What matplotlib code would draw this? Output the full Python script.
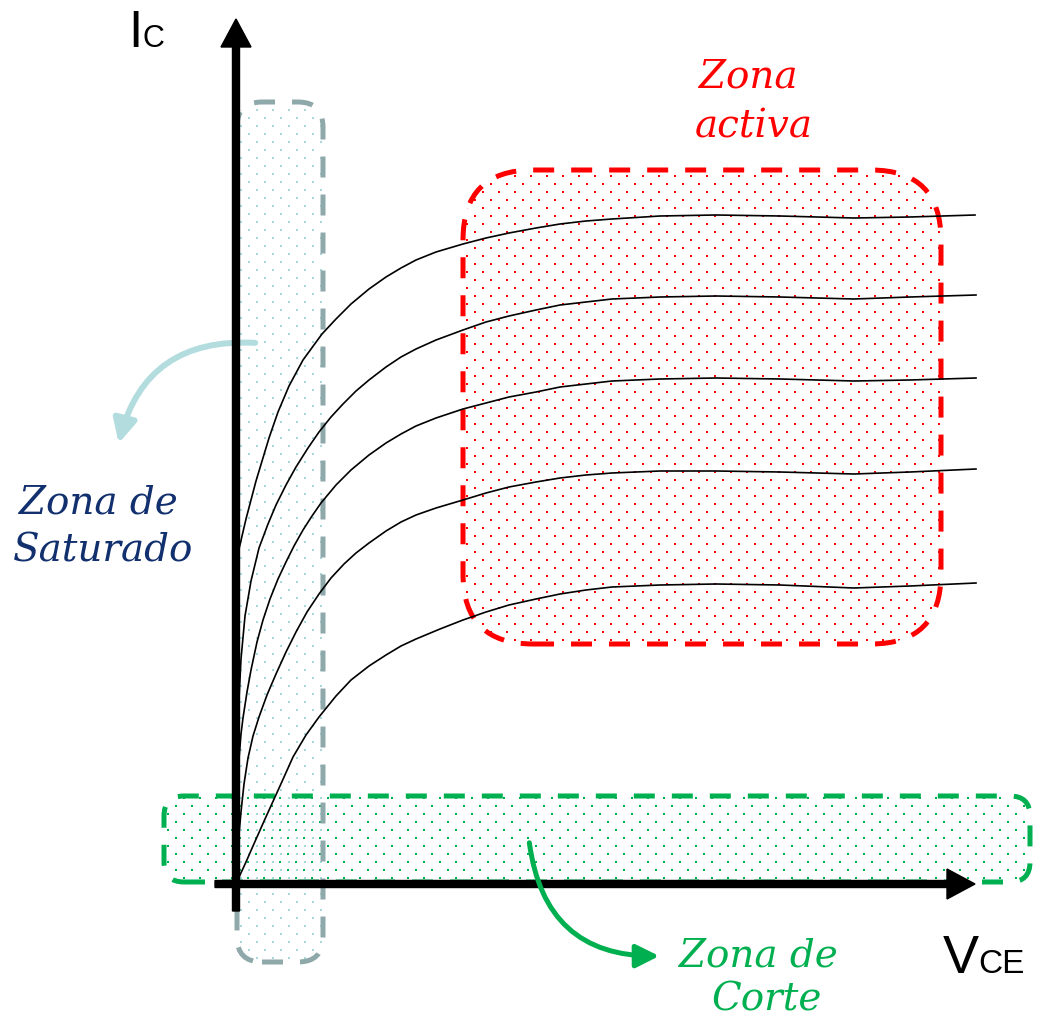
import numpy as np
import matplotlib
matplotlib.use('Agg')
import matplotlib.pyplot as plt
from matplotlib.patches import FancyBboxPatch, FancyArrowPatch

# output curves, Ic vs Vce (units = pixels from the origin)
vce_1 = [0, 0.3, 1, 2, 3, 10, 20, 33, 42, 53, 67, 86, 100, 115, 133, 150, 165, 180, 200, 227, 250,
         273, 300, 324, 350, 376, 424, 480, 544, 618, 674, 739]
ic_1 = [0, 85, 185, 285, 335, 365, 403, 446, 472, 498, 524, 550, 565, 580, 595, 607, 616, 624, 632, 640, 646,
        651, 656, 660, 663, 665, 668, 669, 668, 666, 667, 669]
vce_2 = [0, 1, 2.5, 5, 9, 15, 23, 32, 40, 50, 60, 72, 83, 95, 107, 120, 133, 150, 165, 180, 200, 227, 250,
         273, 300, 324, 350, 376, 424, 480, 544, 618, 674, 740]
ic_2 = [0, 100, 175, 225, 268, 303, 336, 360, 379, 399, 417, 436, 452, 467, 480, 493, 504, 517, 527, 535, 544, 554, 562,
        568, 574, 579, 582, 585, 587, 588, 587, 585, 587, 589]
vce_3 = [0, 1, 3, 5, 7, 11, 15, 21, 27, 34, 42, 50, 58, 67, 76, 85, 100, 115, 133, 150, 165, 180, 200, 227, 250,
         273, 300, 324, 350, 376, 424, 480, 544, 618, 674, 740]
ic_3 = [0, 60, 125, 150, 166, 192, 214, 242, 264, 285, 305, 322, 338, 354, 368, 381, 399, 414, 429, 441, 450, 458, 466, 475, 481,
        487, 492, 497, 500, 503, 505, 506, 505, 503, 504, 506]
vce_4 = [0, 1, 3, 5, 8, 12, 17, 23, 31, 40, 50, 60, 71, 83, 95, 108, 120, 133, 150, 165, 180, 200, 227, 250,
         273, 300, 324, 350, 376, 424, 480, 544, 618, 674, 740]
ic_4 = [0, 22, 50, 72, 100, 126, 148, 167, 189, 210, 232, 252, 272, 290, 306, 320, 331, 341, 353, 362, 369, 376, 384, 391,
        397, 402, 406, 409, 411, 413, 413, 412, 410, 412, 415]
vce_5 = [0, 4, 10, 17, 29, 44, 57, 70, 83, 100, 115, 133, 150, 165, 180, 204, 227, 250, 273, 300, 324, 350, 376,
         424, 480, 544, 618, 674, 740]
ic_5 = [0, 9, 22, 38, 65, 98, 127, 149, 167, 188, 204, 218, 229, 238, 245, 255, 264, 272, 279, 285, 290, 294, 297,
        299, 300, 299, 296, 298, 301]

curves = [(vce_1, ic_1), (vce_2, ic_2), (vce_3, ic_3), (vce_4, ic_4), (vce_5, ic_5)]

zone_labels = ['Zona\nactiva', 'Zona de\nSaturado', 'Zona de\nCorte']

fig = plt.figure(figsize=(10.37, 10.20), dpi=100)
ax = fig.add_axes([0, 0, 1, 1])
ax.set_xlim(-236, 801)
ax.set_ylim(-135, 885)
ax.axis('off')


def zone(x0, y0, w, h, r, edge, dot):
    box = FancyBboxPatch((x0, y0), w, h, boxstyle='round,pad=0,rounding_size=%g' % r,
                         fill=False, ec=edge, lw=3.6, ls=(0, (4.2, 3.4)), zorder=2)
    ax.add_patch(box)
    xs = np.arange(x0 + 4, x0 + w, 16.0)
    ys = np.arange(y0 + 4, y0 + h, 8.0)
    X, Y = np.meshgrid(xs, ys)
    X[1::2] += 8
    sc = ax.scatter(X.ravel(), Y.ravel(), s=3, marker='s', c=dot, lw=0, zorder=1)
    sc.set_clip_path(box)
    return box


zone(1, -78, 86, 860, 25, '#8fa9ab', '#a9d9db')
zone(227, 240, 478, 474, 70, '#ff0000', '#ff0000')
zone(-72, 2, 866, 86, 20, '#00b050', '#00b050')

for vx, iy in curves:
    ax.plot(vx, iy, color='black', lw=1.2, zorder=3, solid_joinstyle='round')

# axes with arrow heads
ax.arrow(0, -27, 0, 892, width=7, head_width=30, head_length=28,
         length_includes_head=True, fc='black', ec='black', zorder=5)
ax.arrow(-21, 0, 760, 0, width=7, head_width=30, head_length=28,
         length_includes_head=True, fc='black', ec='black', zorder=5)

ax.text(-108, 838, 'I', fontsize=37, family='Liberation Sans', va='baseline', ha='left')
ax.text(-93, 838, 'C', fontsize=22, family='Liberation Sans', va='baseline', ha='left')
ax.text(707, -88, 'V', fontsize=39, family='Liberation Sans', va='baseline', ha='left')
ax.text(742, -88, 'CE', fontsize=24, family='Liberation Sans', va='baseline', ha='left')

# zone labels
lbl = dict(fontsize=28, family='DejaVu Serif', style='italic', ha='center', va='baseline')
a1, a2 = zone_labels[0].split('\n')
ax.text(512, 798, a1, color='#ff0000', **lbl)
ax.text(518, 748, a2, color='#ff0000', **lbl)
s1, s2 = zone_labels[1].split('\n')
ax.text(-138, 372, s1, color='#12306e', **lbl)
ax.text(-133, 323, s2, color='#12306e', **lbl)
c1, c2 = zone_labels[2].split('\n')
ax.text(522, -82, c1, color='#00b050', **lbl)
ax.text(531, -126, c2, color='#00b050', **lbl)

# curved pointer arrows
ax.add_patch(FancyArrowPatch((22, 541), (-118, 438), connectionstyle='arc3,rad=0.42',
                             arrowstyle='-|>,head_length=1,head_width=0.5', mutation_scale=14,
                             lw=4.3, color='#b3dcdf', zorder=4))
ax.add_patch(FancyArrowPatch((293, 44), (426, -72), connectionstyle='arc3,rad=0.45',
                             arrowstyle='-|>,head_length=1,head_width=0.5', mutation_scale=14,
                             lw=3.6, color='#00b050', zorder=6))

fig.savefig('out.png', dpi=100)
